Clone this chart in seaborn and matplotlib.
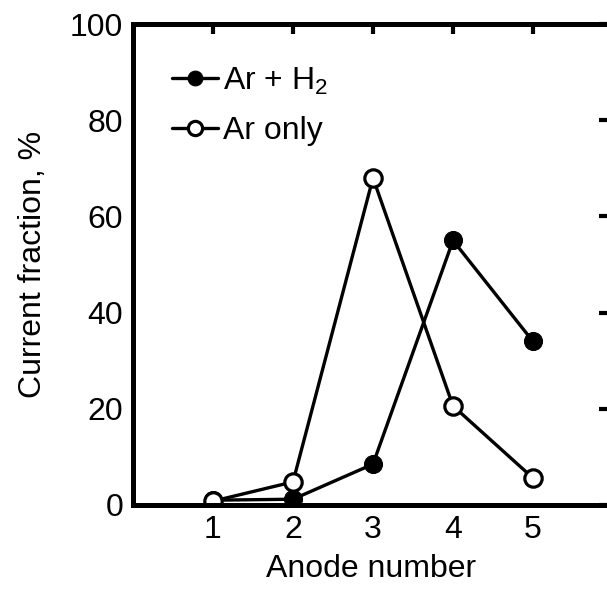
import matplotlib
matplotlib.use("Agg")
import matplotlib.pyplot as plt
import seaborn as sns
import pandas as pd

anode = [1, 2, 3, 4, 5]
ar_h2 = [1.0, 1.2, 8.5, 55.0, 34.0]
ar_only = [0.8, 4.8, 68.0, 20.6, 5.6]
series_labels = ["Ar + H$_2$", "Ar only"]
xticks = [1, 2, 3, 4, 5]
yticks = [0, 20, 40, 60, 80, 100]

sns.set_theme(style="white")
plt.rcParams["font.family"] = ["Liberation Sans", "DejaVu Sans"]
plt.rcParams["mathtext.fontset"] = "custom"
plt.rcParams["mathtext.rm"] = "Liberation Sans"
plt.rcParams["mathtext.it"] = "Liberation Sans"
plt.rcParams["text.color"] = "black"

FS = 23

df_h2 = pd.DataFrame({"x": anode, "y": ar_h2})
df_ar = pd.DataFrame({"x": anode, "y": ar_only})

fig = plt.figure(figsize=(6.07, 5.90), dpi=100)
W, H = 607, 590
left, right, top, bottom = 133, 609, 24, 505
ax = fig.add_axes([left / W, (H - bottom) / H, (right - left) / W, (bottom - top) / H])

sns.lineplot(data=df_h2, x="x", y="y", ax=ax, color="black", lw=2.4,
             marker="o", markersize=13, markerfacecolor="black",
             markeredgecolor="black", label=series_labels[0])
sns.lineplot(data=df_ar, x="x", y="y", ax=ax, color="black", lw=2.4,
             marker="o", markersize=12.5, markerfacecolor="white",
             markeredgecolor="black", markeredgewidth=2.3, label=series_labels[1])

ax.set_xlim(0, 5.95)
ax.set_ylim(0, 100)
ax.set_xticks(xticks)
ax.set_yticks(yticks)
ax.tick_params(axis="both", which="both", direction="in", length=7.5, width=3,
               top=True, right=True, labelsize=FS, color="black", labelcolor="black")
ax.tick_params(axis="x", pad=7)
ax.tick_params(axis="y", pad=7)
for s in ax.spines.values():
    s.set_linewidth(3.6)
    s.set_color("black")
    s.set_visible(True)

ax.set_xlabel("Anode number", fontsize=FS, color="black", labelpad=7)
ax.set_ylabel("Current fraction, %", fontsize=FS, color="black", labelpad=16)

leg = ax.legend(loc="upper left", bbox_to_anchor=(0.055, 0.94), frameon=False,
                fontsize=FS, handlelength=1.45, handletextpad=0.15,
                labelspacing=0.6, markerscale=0.82, borderaxespad=0)
for t in leg.get_texts():
    t.set_color("black")

fig.savefig("out.png", dpi=100, facecolor="white")
